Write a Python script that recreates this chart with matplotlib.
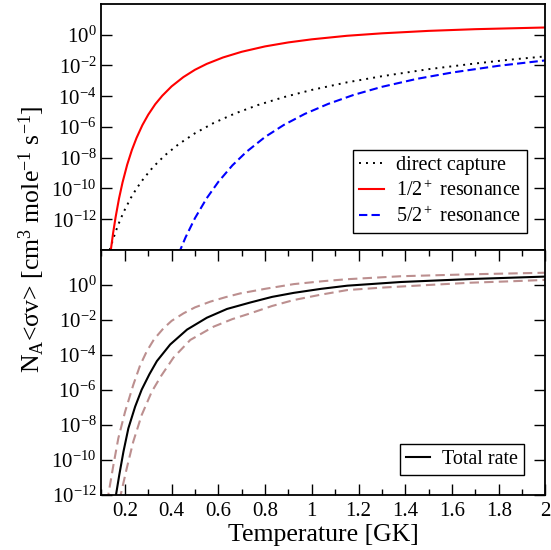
import numpy as np
import matplotlib
matplotlib.use('Agg')
import matplotlib.pyplot as plt
from matplotlib.ticker import FixedLocator, FixedFormatter, NullLocator

plt.rcParams['font.family'] = 'serif'
plt.rcParams['font.serif'] = ['Liberation Serif', 'DejaVu Serif']
plt.rcParams['mathtext.fontset'] = 'custom'
plt.rcParams['mathtext.rm'] = 'Liberation Serif'
plt.rcParams['mathtext.it'] = 'Liberation Serif:italic'

#==============================================================================
# values (T in GK, rates as log10)
# top panel: contributions
dc_T = [0.135, 0.16, 0.18, 0.20, 0.225, 0.25, 0.28, 0.32, 0.37, 0.43, 0.50,
        0.58, 0.67, 0.77, 0.88, 1.0, 1.15, 1.3, 1.5, 1.7, 1.85, 2.0]
dc_log = [-14.0, -12.83, -12.04, -11.37, -10.63, -10.0, -9.36, -8.62, -7.86,
          -7.12, -6.41, -5.74, -5.13, -4.57, -4.06, -3.59, -3.10, -2.70,
          -2.24, -1.87, -1.62, -1.41]

r12_T = [0.14, 0.15, 0.16, 0.175, 0.19, 0.21, 0.23, 0.25, 0.275, 0.30, 0.33,
         0.36, 0.40, 0.45, 0.50, 0.55, 0.62, 0.70, 0.80, 0.90, 1.0, 1.15,
         1.3, 1.5, 1.7, 2.0]
r12_log = [-13.99, -12.87, -11.90, -10.65, -9.61, -8.45, -7.50, -6.71, -5.88,
           -5.20, -4.52, -3.97, -3.36, -2.76, -2.28, -1.90, -1.48, -1.11,
           -0.76, -0.50, -0.30, -0.07, 0.09, 0.25, 0.36, 0.47]

r52_T = [0.43, 0.46, 0.50, 0.55, 0.60, 0.66, 0.72, 0.80, 0.88, 0.97, 1.07,
         1.18, 1.3, 1.45, 1.6, 1.8, 2.0]
r52_log = [-14.25, -13.17, -11.93, -10.64, -9.57, -8.50, -7.62, -6.65, -5.87,
           -5.15, -4.50, -3.91, -3.39, -2.87, -2.46, -2.02, -1.67]

# bottom panel: total rate with upper / lower limits
tot_T = [0.155, 0.162, 0.176, 0.194, 0.215, 0.244, 0.272, 0.305, 0.337, 0.394,
         0.466, 0.551, 0.637, 0.737, 0.83, 0.923, 1.04, 1.152, 1.381, 1.68, 2.0]
tot_log = [-12.6, -12.0, -10.86, -9.52, -8.19, -6.95, -5.98, -5.1, -4.35, -3.4,
           -2.55, -1.87, -1.37, -1.0, -0.68, -0.45, -0.22, -0.04, 0.17, 0.34,
           0.48]

up_T = [0.125, 0.129, 0.151, 0.172, 0.201, 0.236, 0.265, 0.294, 0.325, 0.365,
        0.40, 0.451, 0.50, 0.566, 0.63, 0.694, 0.80, 0.923, 1.05, 1.152, 1.381,
        1.68, 2.0]
up_log = [-12.4, -12.0, -10.29, -8.76, -7.24, -5.71, -4.6, -3.78, -3.1, -2.48,
          -2.05, -1.62, -1.28, -0.95, -0.7, -0.48, -0.22, 0.05, 0.22, 0.33,
          0.5, 0.61, 0.70]

lo_T = [0.178, 0.182, 0.208, 0.236, 0.272, 0.315, 0.355, 0.408, 0.48, 0.58,
        0.66, 0.737, 0.83, 0.923, 1.04, 1.152, 1.3, 1.5, 1.68, 1.85, 2.0]
lo_log = [-12.3, -12.0, -10.48, -8.95, -7.43, -6.1, -5.2, -4.15, -3.14, -2.38,
          -1.95, -1.62, -1.2, -0.86, -0.55, -0.29, -0.15, 0.0, 0.13, 0.21, 0.29]

xticks = [0.2, 0.4, 0.6, 0.8, 1.0, 1.2, 1.4, 1.6, 1.8, 2.0]
xticklabels = ['0.2', '0.4', '0.6', '0.8', '1', '1.2', '1.4', '1.6', '1.8', '2']
yexps = [-12, -10, -8, -6, -4, -2, 0]
#==============================================================================
def styleAxis(ax, ylo):
  ax.set_yscale('log')
  ax.set_xlim(0.1, 2.0)
  ax.set_ylim(10.0**ylo, 1e2)
  ax.yaxis.set_major_locator(FixedLocator([10.0**e for e in yexps]))
  ax.yaxis.set_major_formatter(FixedFormatter(
      [r'$\mathregular{10^{%d}}$' % e for e in yexps]))
  ax.yaxis.set_minor_locator(NullLocator())
  ax.xaxis.set_major_locator(FixedLocator(xticks))
  ax.xaxis.set_major_formatter(FixedFormatter(xticklabels))
  ax.xaxis.set_minor_locator(FixedLocator(np.arange(0.1, 2.01, 0.2)))
  ax.tick_params(which='both', direction='in', labelsize=15, width=1.0,
                 left=True, right=True)
  ax.tick_params(which='major', length=8)
  ax.tick_params(which='minor', length=4)
  ax.tick_params(axis='x', which='major', pad=5)
  for s in ax.spines.values():
    s.set_linewidth(1.3)

def legendBox(ax, anchor, spacing):
  leg = ax.legend(loc='lower right', bbox_to_anchor=anchor, fontsize=14.5,
                  fancybox=False, edgecolor='black', framealpha=1,
                  borderaxespad=0, handlelength=1.2, handletextpad=0.6,
                  labelspacing=spacing, borderpad=0.3)
  leg.get_frame().set_linewidth(1.0)
  return leg

fig = plt.figure(figsize=(5.51, 5.5), dpi=100)
ax1 = fig.add_axes([0.1842, 0.5455, 0.8058, 0.4473])
ax2 = fig.add_axes([0.1842, 0.1, 0.8058, 0.4455])

# top panel
ax1.plot(dc_T, 10.0**np.array(dc_log), color='black', lw=1.4,
         linestyle=(0, (1, 2.6)), label='direct capture')
ax1.plot(r12_T, 10.0**np.array(r12_log), color='red', lw=1.5,
         label=r'1/2$^+$ resonance')
ax1.plot(r52_T, 10.0**np.array(r52_log), color='blue', lw=1.5,
         linestyle=(0, (4, 2)), label=r'5/2$^+$ resonance')
styleAxis(ax1, -14)
ax1.tick_params(axis='x', which='both', bottom=False, top=False,
                labelbottom=False)
legendBox(ax1, (0.958, 0.069), 0.3)

# bottom panel
ax2.plot(up_T, 10.0**np.array(up_log), color='#bc8f8f', lw=1.5,
         linestyle=(0, (4.5, 2.5)))
ax2.plot(lo_T, 10.0**np.array(lo_log), color='#bc8f8f', lw=1.5,
         linestyle=(0, (4.5, 2.5)))
ax2.plot(tot_T, 10.0**np.array(tot_log), color='black', lw=1.5,
         label='Total rate')
styleAxis(ax2, -12)
ax2.tick_params(axis='x', which='both', top=True, bottom=True)
ax2.set_xlabel('Temperature [GK]', fontsize=18.5, labelpad=2)
legendBox(ax2, (0.952, 0.082), 0.2)

fig.text(0.058, 0.565,
         r'N$_\mathregular{A}$<$\mathregular{\sigma}$v> [cm$^\mathregular{3}$ mole$^\mathregular{-1}$ s$^\mathregular{-1}$]',
         rotation=90, fontsize=18.5, ha='center', va='center')

fig.savefig('out.png', dpi=100)
